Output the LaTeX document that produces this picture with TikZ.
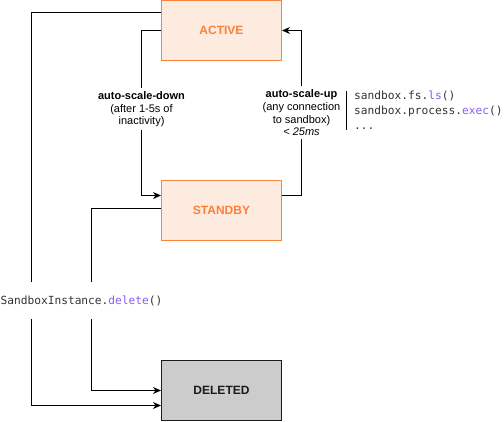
\documentclass[tikz,border=0pt]{standalone}
\usepackage{fontspec}
\setmainfont{Liberation Sans}
\newfontfamily\codefont{DejaVu Sans Mono}
\usetikzlibrary{arrows.meta}
\definecolor{stfill}{HTML}{FDEBDF}
\definecolor{stline}{HTML}{F5843F}
\definecolor{sttext}{HTML}{FF7F3A}
\definecolor{delfill}{HTML}{CCCCCC}
\definecolor{deltext}{HTML}{1A1A1A}
\definecolor{codepurple}{HTML}{8A5CF5}
\definecolor{codetext}{HTML}{333333}
\tikzset{
  statebox/.style={draw=stline, fill=stfill, line width=1pt, minimum width=120pt, minimum height=60pt, inner sep=0pt,
    text=sttext, font=\fontsize{12}{14}\selectfont\bfseries},
  delbox/.style={draw=deltext, fill=delfill, line width=1pt, minimum width=120pt, minimum height=60pt, inner sep=0pt,
    text=deltext, font=\fontsize{12}{14}\selectfont\bfseries},
  arr/.style={draw=black, line width=1pt, -{Stealth[length=8pt,width=7pt,inset=2.5pt]}},
  elabel/.style={fill=white, inner xsep=1pt, inner ysep=3pt, align=center, text=black, font=\fontsize{11}{12.8}\selectfont},
  codelabel/.style={fill=white, inner xsep=1pt, minimum height=37pt, text=codetext, font=\codefont\fontsize{11.2}{15}\selectfont},
  codeblock/.style={anchor=north west, inner sep=0pt, align=left, text=codetext, font=\codefont\fontsize{11.2}{15}\selectfont},
}
\newcommand{\fn}[1]{\textcolor{codepurple}{#1}}
\begin{document}
\begin{tikzpicture}[x=1pt,y=-1pt]
\useasboundingbox (0,0) rectangle (504,421);
\node[statebox] (act) at (221.5,30.5) {ACTIVE};
\node[statebox] (sb) at (221.5,210.5) {STANDBY};
\node[delbox] (del) at (221.5,390.5) {DELETED};

\draw[arr] ([yshift=18pt]act.west) -| (31.5,300) |- ([yshift=-15pt]del.west);
\draw[arr] ([yshift=2pt]sb.west) -| (91.5,300) |- (del.west);
\draw[arr] (act.west) -| (141.5,100) |- ([yshift=15pt]sb.west);
\draw[arr] ([yshift=15pt]sb.east) -| (301.5,100) |- (act.east);

\node[elabel] (down) at (141.5,109.3) {\textbf{auto-scale-down}\\(after 1-5s of\\inactivity)};
\node[elabel] (up) at (301.5,112.7) {\textbf{auto-scale-up}\\(any connection\\to sandbox)\\\textit{< 25ms}};
\node[codelabel] (delcall) at (81.5,300.5) {SandboxInstance.\fn{delete}()};

\node[codeblock] (code) at (354,91) {sandbox.fs.\fn{ls}()\\sandbox.process.\fn{exec}()\\...};
\draw[line width=1pt] (346.7,91) -- (346.7,130);
\end{tikzpicture}
\end{document}
